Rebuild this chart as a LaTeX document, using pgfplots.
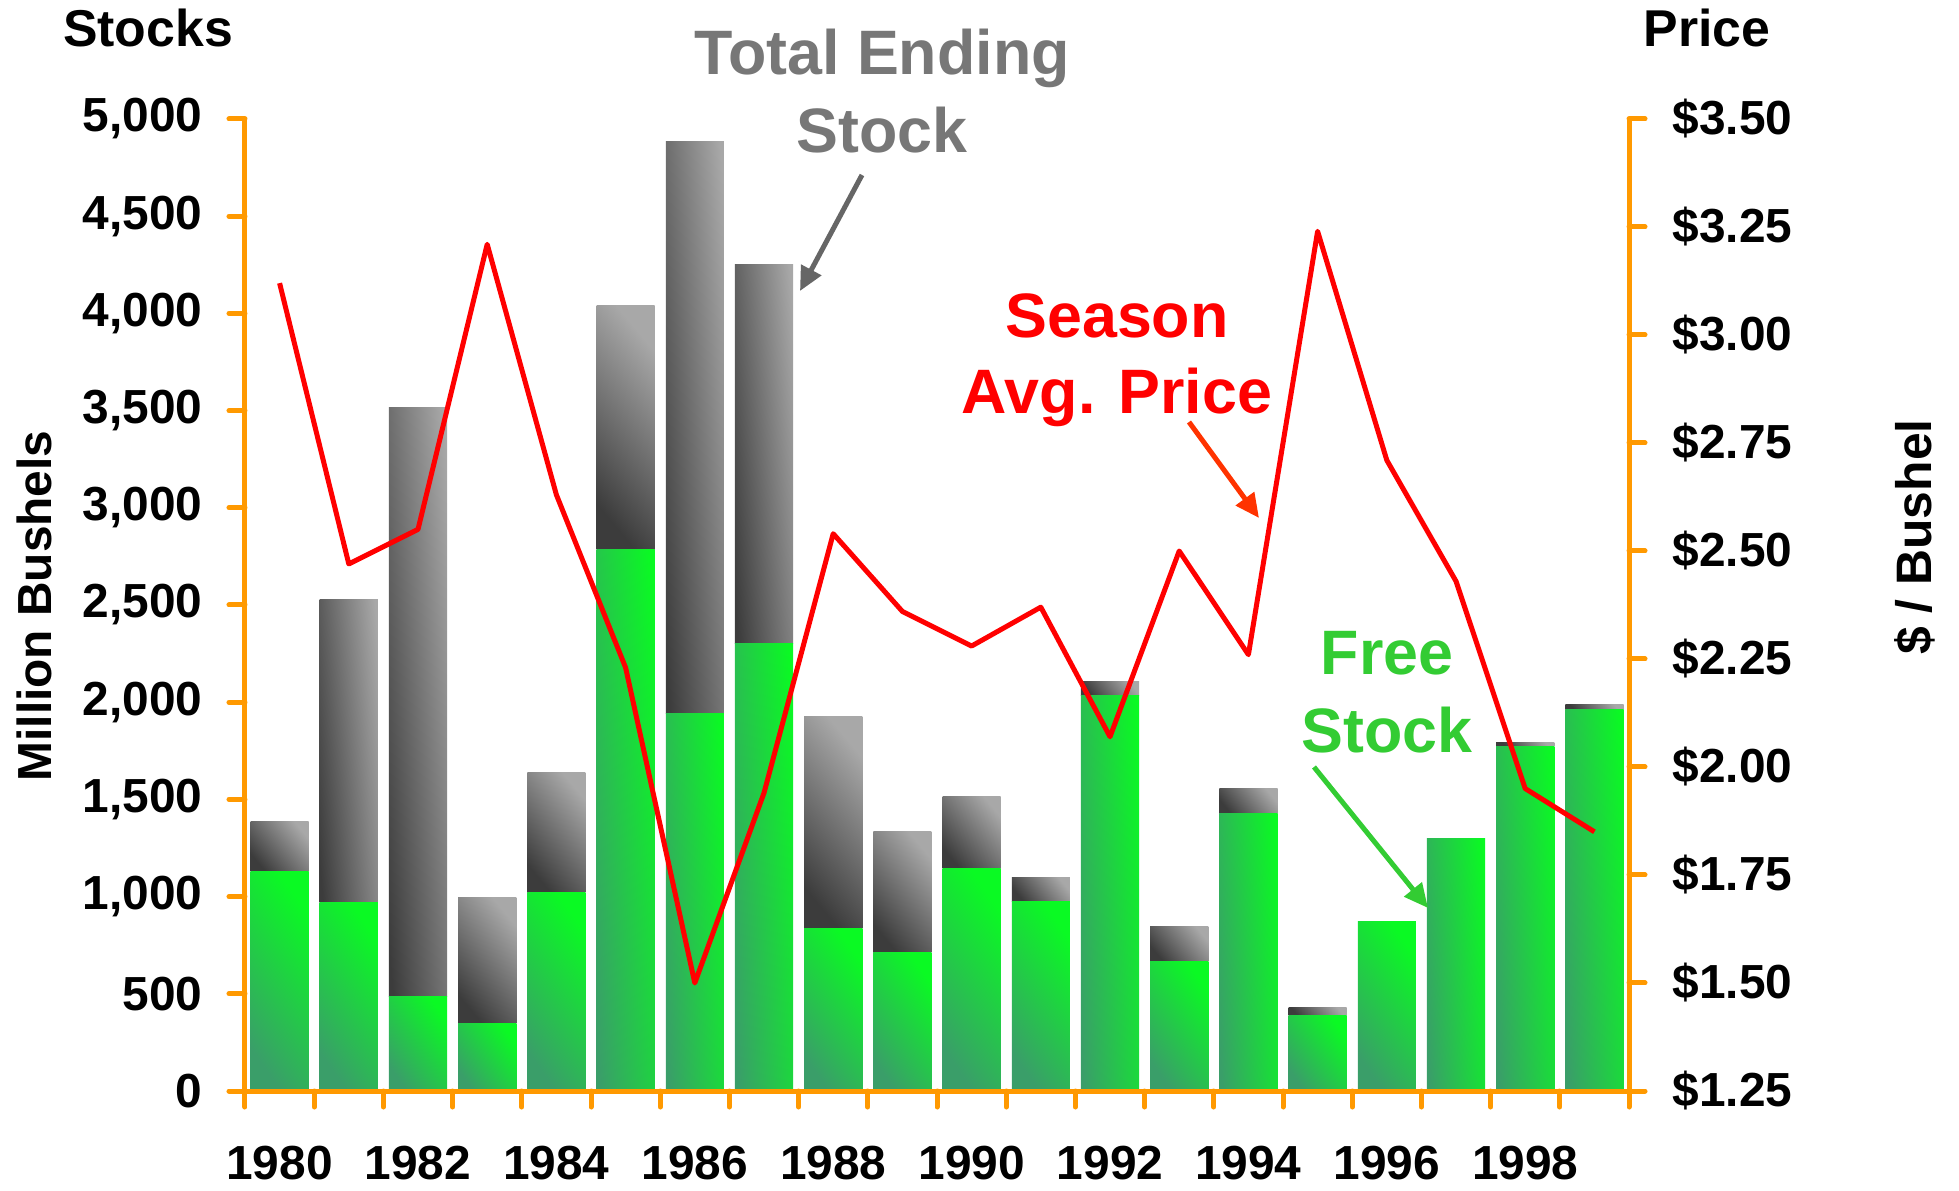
\documentclass[border=0pt]{standalone}
\usepackage{fontspec}
\setmainfont{Liberation Sans}
\usepackage{pgfplots}
\pgfplotsset{compat=1.18}
\usepackage{pgfplotstable}
\usetikzlibrary{arrows.meta}

\definecolor{axorange}{HTML}{FF9900}
\definecolor{gdark}{RGB}{58,158,105}
\definecolor{glight}{RGB}{10,250,35}
\definecolor{kdark}{RGB}{60,60,60}
\definecolor{klight}{RGB}{168,168,168}
\definecolor{txtgray}{HTML}{777777}
\definecolor{arrgray}{HTML}{666666}
\definecolor{txtgreen}{HTML}{33CC33}
\definecolor{arrred}{HTML}{FF3300}

\pgfplotstableread{
idx year free total price
0  1980 1131 1388 3.12
1  1981 970  2526 2.47
2  1982 488  3515 2.55
3  1983 347  996  3.21
4  1984 1022 1639 2.63
5  1985 2783 4042 2.23
6  1986 1941 4884 1.50
7  1987 2301 4254 1.94
8  1988 835  1928 2.54
9  1989 713  1337 2.36
10 1990 1144 1517 2.28
11 1991 977  1099 2.37
12 1992 2037 2108 2.07
13 1993 668  848  2.50
14 1994 1427 1555 2.26
15 1995 386  431  3.24
16 1996 874  874  2.71
17 1997 1298 1298 2.43
18 1998 1774 1793 1.95
19 1999 1960 1986 1.85
}\datatable

\pgfplotsset{
  common/.style={
    at={(0,0)}, anchor=south west,
    scale only axis, width=1384bp, height=972bp,
    xmin=-0.5, xmax=19.5,
    axis line style={draw=axorange, line width=5bp, -},
    tick style={draw=axorange, line width=5bp, line cap=round},
    tick align=outside, major tick length=16bp,
    ticklabel style={font=\fontsize{48}{48}\selectfont\bfseries},
    clip=false,
  },
  barax/.style={common, hide axis, ymin=0, ymax=5000, ybar stacked, bar width=0.84},
  freebar/.style={draw=none, left color=gdark, right color=glight},
  totbar/.style={draw=none, left color=kdark, right color=klight},
}

\begin{document}
\begin{tikzpicture}[x=1bp,y=1bp]
\useasboundingbox (-245,-99) rectangle (1714,1091);
% bars: one hidden axis per year so that each segment gets its own gradient
% (index / gradient angle of free part / gradient angle of the rest)
\foreach \i/\fa/\ka in {0/125/130, 1/125/95, 2/125/95, 3/125/130, 4/125/130,
    5/95/130, 6/95/95, 7/95/95, 8/125/130, 9/125/130, 10/125/130, 11/125/130,
    12/95/130, 13/125/130, 14/95/130, 15/125/130, 18/95/130, 19/95/130}{
\begin{axis}[barax]
  \addplot[freebar, shading angle=\fa, restrict x to domain=\i:\i]
    table[x=idx, y=free] {\datatable};
  \addplot[totbar, shading angle=\ka, restrict x to domain=\i:\i]
    table[x=idx, y expr=\thisrow{total}-\thisrow{free}] {\datatable};
\end{axis}
}
\foreach \i/\fa in {16/125, 17/95}{
\begin{axis}[barax]
  \addplot[freebar, shading angle=\fa, restrict x to domain=\i:\i]
    table[x=idx, y=free] {\datatable};
\end{axis}
}

\begin{axis}[common,
  ymin=0, ymax=5000,
  axis x line*=bottom, axis y line*=left,
  xtick={-0.5,0.5,1.5,2.5,3.5,4.5,5.5,6.5,7.5,8.5,9.5,10.5,11.5,12.5,13.5,14.5,15.5,16.5,17.5,18.5,19.5},
  xticklabels={},
  extra x ticks={0,2,4,6,8,10,12,14,16,18},
  extra x tick labels={1980,1982,1984,1986,1988,1990,1992,1994,1996,1998},
  extra x tick style={major tick length=0pt, tick style={draw=none},
     xticklabel style={yshift=-52bp}},
  ytick={0,500,1000,1500,2000,2500,3000,3500,4000,4500,5000},
  scaled y ticks=false,
  /pgf/number format/1000 sep={,},
  /pgf/number format/assume math mode=true,
  yticklabel style={xshift=-23bp},
]
\end{axis}

\begin{axis}[common,
  ymin=1.25, ymax=3.5,
  axis x line=none, axis y line*=right,
  ytick={1.25,1.5,1.75,2,2.25,2.5,2.75,3,3.25,3.5},
  yticklabel={\$\pgfmathprintnumber[fixed,fixed zerofill,precision=2,assume math mode=true]{\tick}},
  yticklabel style={xshift=24bp},
]
\addplot[draw=red, line width=5bp, line join=round, mark=none]
  table[x=idx, y=price] {\datatable};
\end{axis}

% titles
\node[anchor=base, font=\fontsize{52}{52}\selectfont\bfseries] at (-97,1044) {Stocks};
\node[anchor=base, font=\fontsize{52}{52}\selectfont\bfseries] at (1462,1044) {Price};
\node[rotate=90, font=\fontsize{48}{48}\selectfont\bfseries] at (-211,485) {Million Bushels};
\node[rotate=90, font=\fontsize{50}{50}\selectfont\bfseries] at (1670,554) {\$ / Bushel};

% annotations
\node[anchor=base, text=txtgray, font=\fontsize{63}{63}\selectfont\bfseries] at (637,1016) {Total Ending};
\node[anchor=base, text=txtgray, font=\fontsize{63}{63}\selectfont\bfseries] at (637,938) {Stock};
\draw[arrgray, line width=5bp, -{Triangle[length=24bp,width=22bp]}] (617,916) -- (555,800);

\node[anchor=base, text=red, font=\fontsize{63}{63}\selectfont\bfseries] at (872,753) {Season};
\node[anchor=base, text=red, font=\fontsize{63}{63}\selectfont\bfseries] at (872,677) {Avg. Price};
\draw[arrred, line width=5bp, -{Triangle[length=24bp,width=22bp]}] (944,669) -- (1014,573);

\node[anchor=base, text=txtgreen, font=\fontsize{63}{63}\selectfont\bfseries] at (1142,416) {Free};
\node[anchor=base, text=txtgreen, font=\fontsize{63}{63}\selectfont\bfseries] at (1142,338) {Stock};
\draw[txtgreen, line width=5bp, -{Triangle[length=24bp,width=22bp]}] (1069,324) -- (1183,183);
\end{tikzpicture}
\end{document}
